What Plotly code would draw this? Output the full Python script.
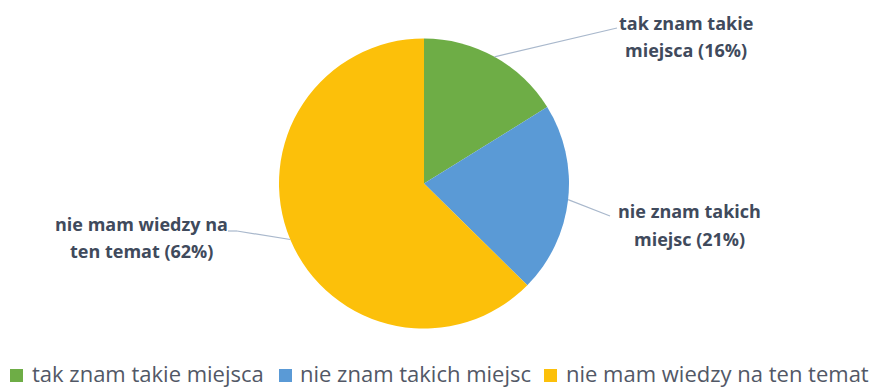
import math
import plotly.graph_objects as go

# Survey answers and shares (%)
categories = ["tak znam takie miejsca", "nie znam takich miejsc", "nie mam wiedzy na ten temat"]
shares = [16, 21, 62]
label_lines = [["tak znam takie", "miejsca"], ["nie znam takich", "miejsc"], ["nie mam wiedzy na", "ten temat"]]
colors = ["#6EAD46", "#5A9AD6", "#FCC00A"]

W, H = 873, 388
CX, CY, R = 424, 183.5, 145  # pie centre and radius in pixels

# leader-line end points and label text centres, in pixels
label_end = [[(617, 28)], [(610, 216)], [(237, 231), (228, 231)]]
label_center = [(686, 36.5), (689, 225), (141, 237.5)]
LINE_GAP = 27

# legend layout: square left edge and text start, in pixels
legend_sq_x = [10, 279, 544]
legend_txt_x = [30, 298, 564]
LEGEND_Y = 373
SQ_Y = 375.5
SQ = 13

fig = go.Figure(go.Pie(
    labels=categories,
    values=shares,
    sort=False,
    direction="clockwise",
    rotation=0,
    textinfo="none",
    hoverinfo="label+percent",
    marker=dict(colors=colors, line=dict(width=0)),
    domain=dict(x=[(CX - R) / W, (CX + R) / W], y=[(H - CY - R) / H, (H - CY + R) / H]),
    showlegend=False,
))

def px(x, y):
    return x / W, 1 - y / H

total = sum(shares)
shapes = []
annotations = []
label_font = dict(family="Open Sans", size=18, color="#404A5C", weight="bold")
cum = 0
for i, v in enumerate(shares):
    mid = (cum + v / 2) / total * 2 * math.pi
    cum += v
    ex, ey = CX + R * math.sin(mid), CY - R * math.cos(mid)
    pts = [(ex, ey)] + label_end[i]
    for (x0, y0), (x1, y1) in zip(pts[:-1], pts[1:]):
        a0, b0 = px(x0, y0)
        a1, b1 = px(x1, y1)
        shapes.append(dict(type="line", xref="paper", yref="paper",
                           x0=a0, y0=b0, x1=a1, y1=b1,
                           line=dict(color="#A9B8CC", width=1.2)))
    lines = [label_lines[i][0], f"{label_lines[i][1]} ({v}%)"]
    cx, cy = label_center[i]
    for k, line in enumerate(lines):
        tx, ty = px(cx, cy + (k - 0.5) * LINE_GAP)
        annotations.append(dict(x=tx, y=ty, xref="paper", yref="paper", text=line,
                                showarrow=False, xanchor="center", yanchor="middle",
                                font=label_font))

    # legend entry
    a0, b0 = px(legend_sq_x[i], SQ_Y - SQ / 2)
    a1, b1 = px(legend_sq_x[i] + SQ, SQ_Y + SQ / 2)
    shapes.append(dict(type="rect", xref="paper", yref="paper", x0=a0, y0=b0, x1=a1, y1=b1,
                       fillcolor=colors[i], line=dict(width=0)))
    tx, ty = px(legend_txt_x[i], LEGEND_Y)
    annotations.append(dict(x=tx, y=ty, xref="paper", yref="paper", text=categories[i],
                            showarrow=False, xanchor="left", yanchor="middle",
                            font=dict(family="Open Sans", size=22, color="#525866")))

fig.update_layout(
    width=W, height=H,
    margin=dict(l=0, r=0, t=0, b=0),
    paper_bgcolor="white",
    plot_bgcolor="white",
    shapes=shapes,
    annotations=annotations,
    showlegend=False,
)

fig.write_html("out.html")
